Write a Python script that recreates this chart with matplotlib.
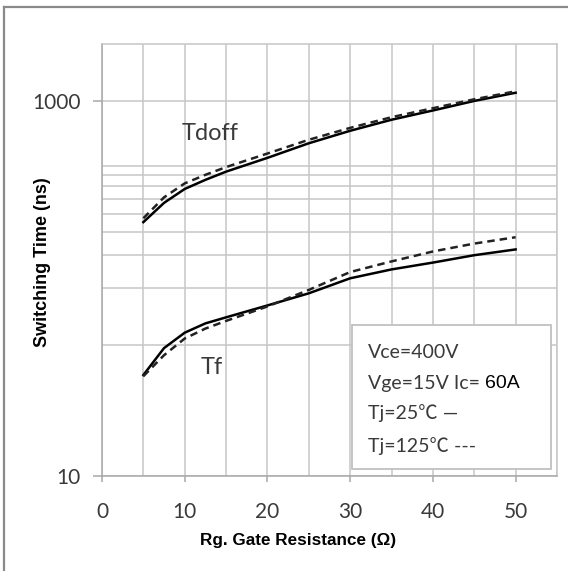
import numpy as np
import matplotlib.pyplot as plt
from matplotlib.lines import Line2D
from matplotlib.patches import Rectangle
from matplotlib.ticker import FixedLocator, NullFormatter

# gate resistance (ohm) and switching times (ns)
rg = [5, 7.5, 10, 12.5, 15, 20, 25, 30, 35, 40, 45, 50]
tdoff_25c = [225, 285, 338, 378, 418, 495, 592, 690, 790, 885, 995, 1100]
tdoff_125c = [236, 305, 362, 402, 442, 522, 618, 715, 815, 910, 1015, 1120]
tf_25c = [34.5, 48, 58, 65, 70, 81, 94, 113, 126, 137, 150, 161]
tf_125c = [34, 44, 54, 61, 67, 80, 98, 122, 139, 157, 173, 187]

x_major = [0, 10, 20, 30, 40, 50]
x_minor = [5, 15, 25, 35, 45, 55]
y_major = [10, 1000]
y_minor = [50, 100, 150, 200, 250, 300, 350, 400, 450]

note_lines = ["Vce=400V", "Vge=15V Ic=", "Tj=25\u2103 \u2014", "Tj=125\u2103 ---"]

grid_c = "#c6c6c6"
text_c = "#3a3a3a"
cjk = ["Lato", "Noto Sans CJK SC", "DejaVu Sans"]

fig = plt.figure(figsize=(5.68, 5.71), dpi=100)
ax = fig.add_axes([102 / 568, 95 / 571, 455 / 568, 432 / 571])

ax.set_yscale("log")
ax.set_xlim(0, 55)
ax.set_ylim(10, 2000)

ax.plot(rg, tdoff_25c, color="black", lw=1.8, zorder=3)
ax.plot(rg, tdoff_125c, color="#222222", lw=1.8, dashes=(3, 2), zorder=3)
ax.plot(rg, tf_25c, color="black", lw=1.8, zorder=3)
ax.plot(rg, tf_125c, color="#222222", lw=1.8, dashes=(3, 2), zorder=3)

# ticks and grid
ax.xaxis.set_major_locator(FixedLocator(x_major))
ax.xaxis.set_minor_locator(FixedLocator(x_minor))
ax.yaxis.set_major_locator(FixedLocator(y_major))
ax.yaxis.set_minor_locator(FixedLocator(y_minor))
ax.yaxis.set_major_formatter(plt.FuncFormatter(lambda v, p: f"{v:g}"))
ax.yaxis.set_minor_formatter(NullFormatter())
ax.xaxis.set_minor_formatter(NullFormatter())
ax.grid(True, which="both", color=grid_c, lw=1.1, zorder=0)
ax.set_axisbelow(True)

ax.tick_params(axis="x", which="major", length=4.5, width=1.1, color="#a8a8a8",
               pad=14, labelsize=15, labelcolor=text_c)
ax.tick_params(axis="y", which="major", length=6.5, width=1.1, color="#a8a8a8",
               pad=9, labelsize=15, labelcolor=text_c)
ax.tick_params(which="minor", length=0)
for lab in ax.get_xticklabels() + ax.get_yticklabels():
    lab.set_family("Lato")

for sp in ax.spines.values():
    sp.set_color(grid_c)
    sp.set_linewidth(1.1)
ax.spines["left"].set_color("#a8a8a8")
ax.spines["bottom"].set_color("#a8a8a8")

ax.set_xlabel("Rg. Gate Resistance (\u03a9)", family="Liberation Sans", weight="bold",
              fontsize=12.3)
ax.xaxis.set_label_coords((298 - 102) / 455, -(540 - 476) / 432)
ax.xaxis.label.set_va("center")
ax.set_ylabel("Switching Time (ns)", family="Liberation Sans", weight="bold",
              fontsize=13)
ax.yaxis.set_label_coords(-(102 - 43) / 455, 0.495)
ax.yaxis.label.set_va("center")

# curve names
ax.text(13.1, 667, "Tdoff", family="Lato", fontsize=17, color=text_c,
        ha="center", va="center", zorder=4)
ax.text(13.3, 38, "Tf", family="Lato", fontsize=17, color=text_c,
        ha="center", va="center", zorder=4)

# conditions box
box = Rectangle((0.549, 0.016), 0.438, 0.334, transform=ax.transAxes,
                facecolor="white", edgecolor="#c0c0c0", lw=1.3, zorder=5)
ax.add_patch(box)
rows_y = [0.287, 0.215, 0.146, 0.07]
for txt, yy in zip(note_lines, rows_y):
    ax.text(0.585, yy, txt, transform=ax.transAxes, family=cjk, fontsize=14,
            color=text_c, ha="left", va="center", zorder=6)
ax.text(0.842, rows_y[1], "60A", transform=ax.transAxes, family="Liberation Sans",
        fontsize=14, color="black", ha="left", va="center", zorder=6)

# outer frame
fig.add_artist(Line2D([4 / 568, 4 / 568], [0, 1 - 7 / 571], transform=fig.transFigure,
                      color="#8a8a8a", lw=1.6))
fig.add_artist(Line2D([4 / 568, 1], [1 - 7 / 571, 1 - 7 / 571], transform=fig.transFigure,
                      color="#8a8a8a", lw=1.6))

fig.savefig("out.png", dpi=100)
